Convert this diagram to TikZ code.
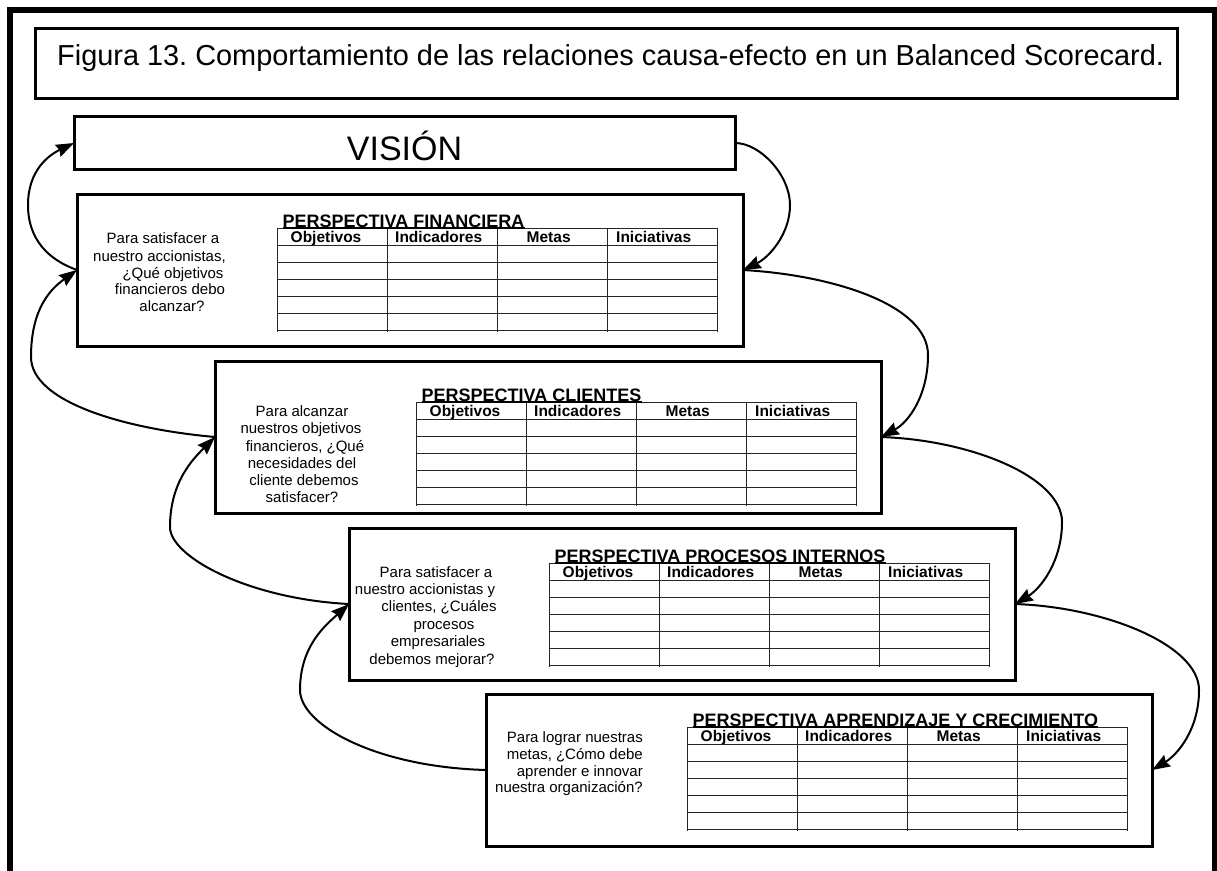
\documentclass[tikz,border=0pt]{standalone}
\usepackage{fontspec}
\setmainfont{Liberation Sans}
\usetikzlibrary{arrows.meta}
\frenchspacing
\newcommand\bsctable[2]{%
  \foreach \i in {0,...,6} \draw[gridline] (#1,#2+17*\i) -- ++(441,0);
  \foreach \j in {0,...,4} \draw[gridline] (#1+110*\j,#2) -- ++(0,104);
}
\newcommand\bschead[4]{%
  \node[ptitle] (#3t) at (#1+5.5,#2-1) {#4};
  \draw[line width=1.5pt] ([yshift=-1pt]#3t.base west) -- ([yshift=-1pt]#3t.base east);
  \node[hd] (#3o) at (#1+13.5,#2+14) {Objetivos};
  \node[hd] (#3i) at (#1+118,#2+14) {Indicadores};
  \node[hd] (#3m) at (#1+249.5,#2+14) {Metas};
  \node[hd] (#3n) at (#1+339,#2+14) {Iniciativas};
}
\begin{document}
\begin{tikzpicture}[x=1pt,y=-1pt,
  box/.style={draw,line width=3pt,outer sep=0pt,minimum width=666pt,minimum height=152pt,anchor=north west,inner sep=0pt},
  conn/.style={line width=2pt,-{Stealth[length=18pt,width=13pt,inset=2pt]}},
  q/.style={font=\fontsize{15}{17}\selectfont,inner sep=0pt,anchor=base},
  qr/.style={q,anchor=base east},
  hd/.style={font=\bfseries\fontsize{15.5}{17}\selectfont,inner sep=0pt,anchor=base west},
  ptitle/.style={font=\bfseries\fontsize{18}{20}\selectfont,inner sep=0pt,anchor=base west},
  gridline/.style={line width=1pt,black!85}
]
\useasboundingbox (0,0) rectangle (1217,870);
% outer frame
\draw[line width=6pt,miter limit=10] (10,875) -- (10,10) -- (1215,10) -- (1215,875);
% title
\node[draw,line width=3pt,outer sep=0pt,inner sep=0pt,minimum width=1142pt,minimum height=70.5pt,anchor=north west] (tbox) at (35,28) {};
\node[font=\fontsize{28.9}{32}\selectfont,anchor=base west,inner sep=0pt] (ttl) at (57,65) {Figura 13. Comportamiento de las relaciones causa-efecto en un Balanced Scorecard.};
% vision
\node[draw,line width=3pt,outer sep=0pt,inner sep=0pt,minimum width=661pt,minimum height=53pt,anchor=north west] (vis) at (74,116.5) {};
\node[font=\fontsize{34}{40}\selectfont,anchor=base,inner sep=0pt] (vist) at (404.5,160) {VISIÓN};
% boxes
\node[box] (b1) at (77,194) {};
\node[box] (b2) at (215,361) {};
\node[box] (b3) at (349,528) {};
\node[box] (b4) at (486,694) {};
% tables
\bsctable{277}{228}
\bsctable{416}{402}
\bsctable{549}{563}
\bsctable{687}{727}
\bschead{277}{228}{pa}{PERSPECTIVA FINANCIERA}
\bschead{416}{402}{pb}{PERSPECTIVA CLIENTES}
\bschead{549}{563}{pc}{PERSPECTIVA PROCESOS INTERNOS}
\bschead{687}{727}{pd}{PERSPECTIVA APRENDIZAJE Y CRECIMIENTO}
% questions
\node[q] (q1a) at (163,243) {Para satisfacer a};
\node[q] (q1b) at (159.5,261) {nuestro accionistas,};
\node[q] (q1c) at (173,278) {¿Qué objetivos};
\node[q] (q1d) at (170,294.5) {financieros debo};
\node[q] (q1e) at (172,311) {alcanzar?};
\node[q] (q2a) at (302,416.7) {Para alcanzar};
\node[q] (q2b) at (301,433.5) {nuestros objetivos};
\node[q] (q2c) at (305,451) {financieros, ¿Qué};
\node[q] (q2d) at (302,468) {necesidades del};
\node[q] (q2e) at (304,485) {cliente debemos};
\node[q] (q2f) at (302,502) {satisfacer?};
\node[q] (q3a) at (436,577) {Para satisfacer a};
\node[q] (q3b) at (425,594.4) {nuestro accionistas y};
\node[q] (q3c) at (439,611.8) {clientes, ¿Cuáles};
\node[q] (q3d) at (444,629.2) {procesos};
\node[q] (q3e) at (438,646.6) {empresariales};
\node[q] (q3f) at (432,664) {debemos mejorar?};
\node[qr] (q4a) at (643,742.7) {Para lograr nuestras};
\node[qr] (q4b) at (643,759.5) {metas, ¿Cómo debe};
\node[qr] (q4c) at (643,776) {aprender e innovar};
\node[qr] (q4d) at (643,792.7) {nuestra organización?};
% waypoints
\coordinate (L1) at (28,205);
\coordinate (L2) at (31,357);
\coordinate (L3) at (170,527);
\coordinate (L4) at (300,690);
\coordinate (Ra) at (790,205);
\coordinate (Rb) at (928,355);
\coordinate (Rc) at (1062,522);
\coordinate (Rd) at (1199,690);
% connectors
\draw[conn] (b1.west) .. controls +(-28,-10) and +(0,35) .. (L1) .. controls +(0,-35) and +(-25,12) .. (vis.west);
\draw[conn] (b2.west) .. controls +(-90,-8) and +(0,45) .. (L2) .. controls +(0,-50) and +(-25,18) .. (b1.west);
\draw[conn] (b3.west) .. controls +(-100,-5) and +(0,30) .. (L3) .. controls +(0,-45) and +(-22,22) .. (b2.west);
\draw[conn] (b4.west) .. controls +(-110,-3) and +(0,35) .. (L4) .. controls +(0,-45) and +(-22,20) .. (b3.west);
\draw[conn] (vis.east) .. controls +(25,0) and +(0,-30) .. (Ra) .. controls +(0,30) and +(25,-12) .. (b1.east);
\draw[conn] (b1.east) .. controls +(90,5) and +(0,-50) .. (Rb) .. controls +(0,40) and +(28,-15) .. (b2.east);
\draw[conn] (b2.east) .. controls +(90,3) and +(0,-45) .. (Rc) .. controls +(0,40) and +(25,-15) .. (b3.east);
\draw[conn] (b3.east) .. controls +(90,3) and +(0,-45) .. (Rd) .. controls +(0,40) and +(25,-15) .. (b4.east);
\end{tikzpicture}
\end{document}
